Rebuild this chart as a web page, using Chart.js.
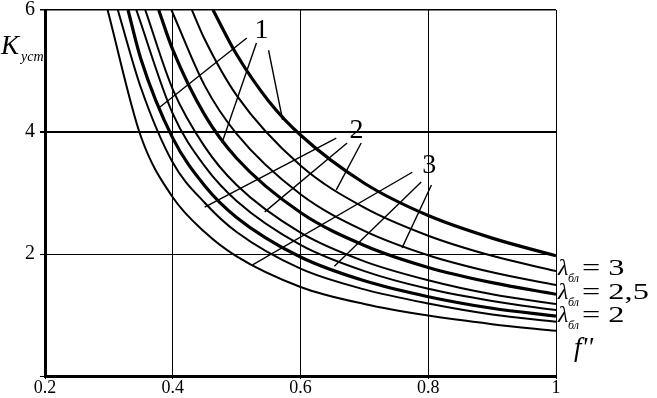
<!DOCTYPE html>
<html lang="ru">
<head>
  <meta charset="UTF-8" />
  <title>K уст vs f''</title>
  <script src="https://cdn.jsdelivr.net/npm/chart.js"></script>
  <style>
    body { margin: 0; background: #fff; }
    canvas { display: block; }
  </style>
</head>
<body>
  <canvas id="kChart" width="657" height="398"></canvas>

  <script>
    // tick values
    const fTicks = [0.2, 0.4, 0.6, 0.8, 1];
    const kTicks = [0, 2, 4, 6];

    // curves, bottom to top: [f'', K]
    const curve1 = [[0.298, 6], [0.35, 3.93], [0.4, 2.93], [0.45, 2.36], [0.5, 1.96], [0.6, 1.46], [0.7, 1.18], [0.8, 0.99], [0.9, 0.85], [1, 0.74]];
    const curve2 = [[0.314, 6], [0.35, 4.73], [0.4, 3.5], [0.45, 2.84], [0.5, 2.36], [0.6, 1.76], [0.7, 1.42], [0.8, 1.19], [0.9, 1.01], [1, 0.89]];
    const curve3 = [[0.330, 6], [0.35, 5.2], [0.4, 3.9], [0.45, 3.12], [0.5, 2.6], [0.6, 1.95], [0.7, 1.56], [0.8, 1.30], [0.9, 1.11], [1, 0.98]];
    const curve4 = [[0.343, 6], [0.4, 4.3], [0.45, 3.44], [0.5, 2.87], [0.6, 2.15], [0.7, 1.72], [0.8, 1.43], [0.9, 1.23], [1, 1.08]];
    const curve5 = [[0.357, 6], [0.4, 4.7], [0.45, 3.76], [0.5, 3.13], [0.6, 2.35], [0.7, 1.88], [0.8, 1.57], [0.9, 1.34], [1, 1.18]];
    const curve6 = [[0.378, 6], [0.4, 5.35], [0.45, 4.28], [0.5, 3.57], [0.6, 2.68], [0.7, 2.14], [0.8, 1.78], [0.9, 1.53], [1, 1.34]];
    const curve7 = [[0.398, 6], [0.45, 4.76], [0.5, 3.97], [0.6, 2.98], [0.7, 2.38], [0.8, 1.98], [0.9, 1.70], [1, 1.49]];
    const curve8 = [[0.430, 6], [0.45, 5.52], [0.5, 4.6], [0.6, 3.45], [0.7, 2.76], [0.8, 2.30], [0.9, 1.97], [1, 1.72]];
    const curve9 = [[0.463, 6], [0.5, 5.27], [0.55, 4.51], [0.6, 3.95], [0.7, 3.16], [0.8, 2.63], [0.9, 2.26], [1, 1.97]];

    const curves = [curve1, curve2, curve3, curve4, curve5, curve6, curve7, curve8, curve9];
    const thickCurves = [2, 5, 8]; // group "1" drawn heavier

    const groupNames = ['1', '2', '3'];
    const lambdaNames = ['3', '2,5', '2'];

    // leader lines from the group numbers to their curves (f'', K)
    const leaders = [
      [[0.516, 5.54], [0.380, 4.41]],
      [[0.531, 5.46], [0.477, 3.82]],
      [[0.550, 5.34], [0.572, 4.20]],
      [[0.656, 3.90], [0.450, 2.77]],
      [[0.673, 3.82], [0.544, 2.69]],
      [[0.695, 3.82], [0.656, 3.05]],
      [[0.775, 3.34], [0.525, 1.82]],
      [[0.789, 3.18], [0.653, 1.80]],
      [[0.805, 3.13], [0.759, 2.10]]
    ];

    const toXY = arr => arr.map(p => ({ x: p[0], y: p[1] }));

    const datasets = curves.map((c, i) => ({
      data: toXY(c),
      borderColor: '#000',
      borderWidth: thickCurves.includes(i) ? 3.2 : 2,
      pointRadius: 0,
      cubicInterpolationMode: 'monotone',
      fill: false
    }));

    leaders.forEach(seg => {
      datasets.push({
        data: toXY(seg),
        borderColor: '#000',
        borderWidth: 1.4,
        pointRadius: 0,
        fill: false
      });
    });

    const serif = '"Liberation Serif", "DejaVu Serif", serif';

    // draws text stretched sideways, the scanned labels are wide
    function wideText(ctx, txt, x, y, sx) {
      ctx.save();
      ctx.translate(x, y);
      ctx.scale(sx, 1);
      ctx.fillText(txt, 0, 0);
      ctx.restore();
    }

    const textPlugin = {
      id: 'textPlugin',
      afterDraw(chart) {
        const ctx = chart.ctx;
        const xs = chart.scales.x, ys = chart.scales.y;
        ctx.save();
        ctx.fillStyle = '#000';
        ctx.textBaseline = 'alphabetic';

        // group numbers
        ctx.font = '28px ' + serif;
        ctx.textAlign = 'center';
        const numPos = [[0.539, 5.70], [0.6875, 4.07], [0.8016, 3.49]];
        groupNames.forEach((t, i) => {
          ctx.fillText(t, xs.getPixelForValue(numPos[i][0]), ys.getPixelForValue(numPos[i][1]) + 10);
        });

        // lambda labels at right
        ctx.textAlign = 'left';
        const rowK = [1.79, 1.40, 1.01];
        lambdaNames.forEach((t, i) => {
          const x0 = xs.right + 2;
          const yb = ys.getPixelForValue(rowK[i]) + 8;
          ctx.font = 'italic 24px ' + serif;
          ctx.fillText('λ', x0, yb);
          ctx.font = 'italic 12px ' + serif;
          ctx.fillText('бл', x0 + 10, yb + 7);
          ctx.font = '24px ' + serif;
          wideText(ctx, '= ' + t, x0 + 24, yb, 1.35);
        });

        // axis titles
        ctx.font = 'italic 27px ' + serif;
        ctx.fillText('K', 1, 54);
        ctx.font = 'italic 14px ' + serif;
        ctx.fillText('уст', 21, 61);
        ctx.font = 'italic 27px ' + serif;
        ctx.fillText("f''", 574, 356);
        ctx.restore();
      }
    };

    new Chart(document.getElementById('kChart'), {
      type: 'line',
      data: { datasets },
      plugins: [textPlugin],
      options: {
        responsive: false,
        animation: false,
        layout: { padding: { top: 10, right: 101, left: 0, bottom: 0 } },
        plugins: {
          legend: { display: false },
          tooltip: { enabled: false }
        },
        scales: {
          x: {
            type: 'linear',
            min: 0.2,
            max: 1,
            afterBuildTicks: s => { s.ticks = fTicks.map(v => ({ value: v })); },
            afterFit: s => { s.height = 22; s.paddingLeft = 0; s.paddingRight = 0; },
            ticks: {
              color: '#000',
              padding: 0,
              font: { family: serif, size: 18, lineHeight: 1 },
              callback: v => String(v)
            },
            grid: {
              color: '#000',
              lineWidth: 1,
              tickLength: 3
            },
            border: { color: '#000', width: 3 }
          },
          y: {
            min: 0,
            max: 6,
            afterBuildTicks: s => { s.ticks = kTicks.map(v => ({ value: v })); },
            afterFit: s => { s.width = 45; s.paddingTop = 0; s.paddingBottom = 0; },
            ticks: {
              color: '#000',
              padding: 5,
              font: { family: serif, size: 20, lineHeight: 1 },
              callback: v => (v === 0 ? '' : String(v))
            },
            grid: {
              color: '#000',
              lineWidth: c => (c.tick && c.tick.value === 4 ? 2 : (c.tick && c.tick.value === 6 ? 1.5 : 1)),
              tickLength: 5
            },
            border: { color: '#000', width: 3 }
          }
        }
      }
    });
  </script>
</body>
</html>
